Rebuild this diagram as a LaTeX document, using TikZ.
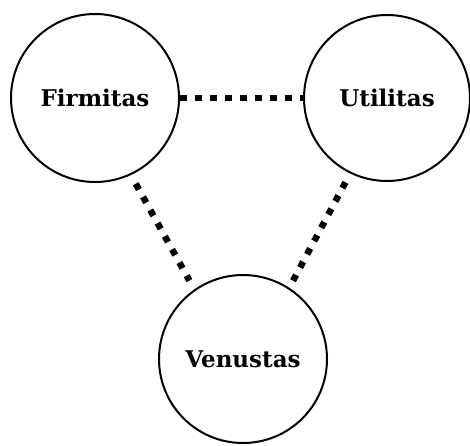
\documentclass[tikz,border=0pt]{standalone}
\usepackage{fontspec}
\setmainfont{DejaVu Serif}
\begin{document}
\begin{tikzpicture}[x=1pt,y=-1pt,
  virtue/.style={circle,draw,line width=2pt,inner sep=0pt,minimum size=168pt,font=\bfseries\fontsize{23}{26}\selectfont},
  link/.style={line width=6.5pt,dash pattern=on 6.5pt off 8.5pt}]
\useasboundingbox (0,0) rectangle (470,445);
\node[virtue] (F) at (95,98) {Firmitas};
\node[virtue,minimum size=166pt] (U) at (387,98) {Utilitas};
\node[virtue] (V) at (243,359) {Venustas};
\draw[link] (F.east) -- (U.west);
\draw[link,shorten <=10pt,shorten >=10pt] (F.-65) -- (V.125);
\draw[link,shorten <=10pt,shorten >=3pt] (U.244) -- (V.57);
\end{tikzpicture}
\end{document}
